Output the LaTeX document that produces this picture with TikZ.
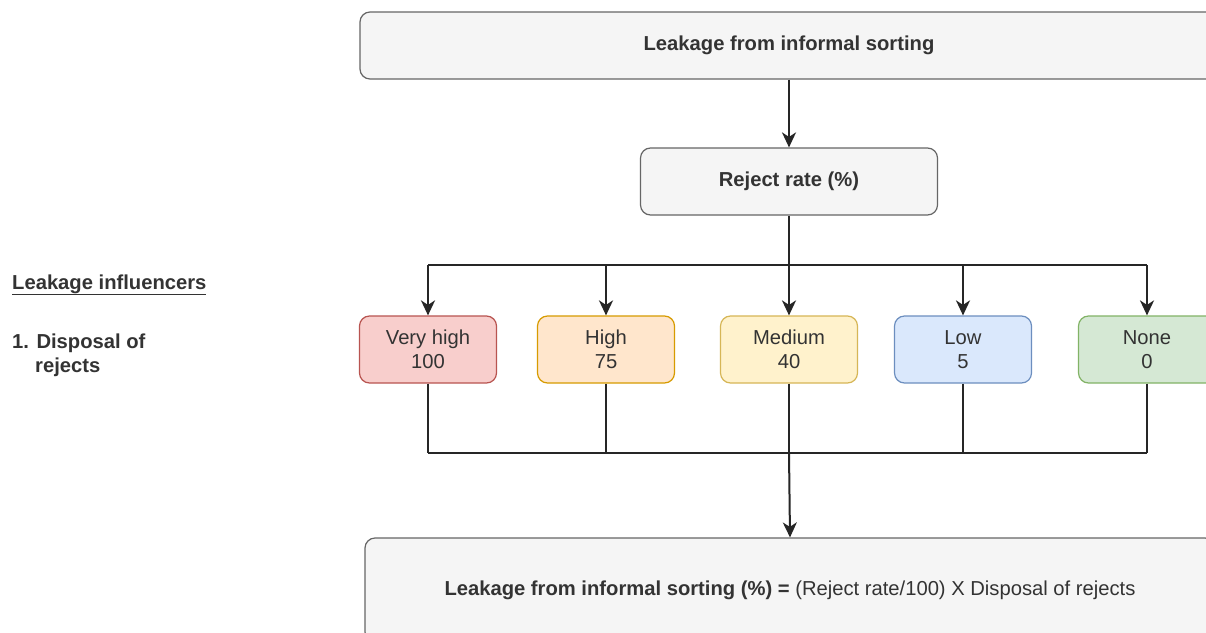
\documentclass[tikz,border=0pt]{standalone}
\usepackage{fontspec}
\setmainfont{Liberation Sans}
\usetikzlibrary{arrows.meta}
\definecolor{gfill}{HTML}{F5F5F5}\definecolor{gline}{HTML}{666666}
\definecolor{txt}{HTML}{333333}
\definecolor{rfill}{HTML}{F8CECC}\definecolor{rline}{HTML}{B85450}
\definecolor{ofill}{HTML}{FFE6CC}\definecolor{oline}{HTML}{D79B00}
\definecolor{yfill}{HTML}{FFF2CC}\definecolor{yline}{HTML}{D6B656}
\definecolor{bfill}{HTML}{DAE8FC}\definecolor{bline}{HTML}{6C8EBF}
\definecolor{nfill}{HTML}{D5E8D4}\definecolor{nline}{HTML}{82B366}
\tikzset{
  box/.style={draw, rounded corners=10pt, line width=1.2pt, text=txt, align=center, inner sep=0pt,
    font=\fontsize{20.2}{24}\selectfont},
  graybox/.style={box, fill=gfill, draw=gline},
  lvl/.style={box, minimum width=137pt, minimum height=67pt},
  conn/.style={line width=2pt, draw=black!85},
  arr/.style={conn, -{Stealth[length=15pt,width=14pt,inset=4.5pt]}},
  lbl/.style={text=txt, inner sep=0pt, font=\fontsize{20.2}{24}\selectfont\bfseries},
}
\begin{document}
\begin{tikzpicture}[x=1pt,y=-1pt]
\useasboundingbox (0,0) rectangle (1206,632);
\clip (0,0) rectangle (1206,632);
\fill[white] (0,0) rectangle (1206,632);

\node[graybox, minimum width=858pt, minimum height=67pt, font=\fontsize{20.2}{24}\selectfont\bfseries] (top) at (789,45.5) {Leakage from informal sorting};
\node[graybox, minimum width=297pt, minimum height=67pt, font=\fontsize{20.2}{24}\selectfont\bfseries] (rr) at (789,181.5) {Reject rate (\%)};

\node[lvl, fill=rfill, draw=rline] (vh) at (428,349.5) {Very high\\100};
\node[lvl, fill=ofill, draw=oline] (hi) at (606,349.5) {High\\75};
\node[lvl, fill=yfill, draw=yline] (me) at (789,349.5) {Medium\\40};
\node[lvl, fill=bfill, draw=bline] (lo) at (963,349.5) {Low\\5};
\node[lvl, fill=nfill, draw=nline] (no) at (1147,349.5) {None\\0};

\node[graybox, minimum width=850pt, minimum height=104pt] (res) at (790,590) {\textbf{Leakage from informal sorting (\%) =} (Reject rate/100) X Disposal of rejects};

\coordinate (bus) at (0,265);
\coordinate (bus2) at (0,453);

\node[lbl, anchor=base west] (infl) at (12,289) {\underline{Leakage influencers}};
\node[lbl, anchor=base west] (d1) at (12,348) {1. Disposal of};
\node[lbl, anchor=base west] (d2) at (35,372) {rejects};

\draw[arr] (top.south) -- (rr.north);
\draw[conn] (rr.south) -- (rr.south |- bus);
\draw[conn] (vh.north |- bus) -- (no.north |- bus);
\draw[arr] (rr.south |- bus) -- (me.north);
\foreach \n in {vh,hi,lo,no}{
  \draw[arr] (\n.north |- bus) -- (\n.north);
}
\foreach \n in {vh,hi,me,lo,no}{
  \draw[conn] (\n.south) -- (\n.south |- bus2);
}
\draw[conn] (vh.south |- bus2) -- (no.south |- bus2);
\draw[arr] (me.south |- bus2) -- (res.north);
\end{tikzpicture}
\end{document}
